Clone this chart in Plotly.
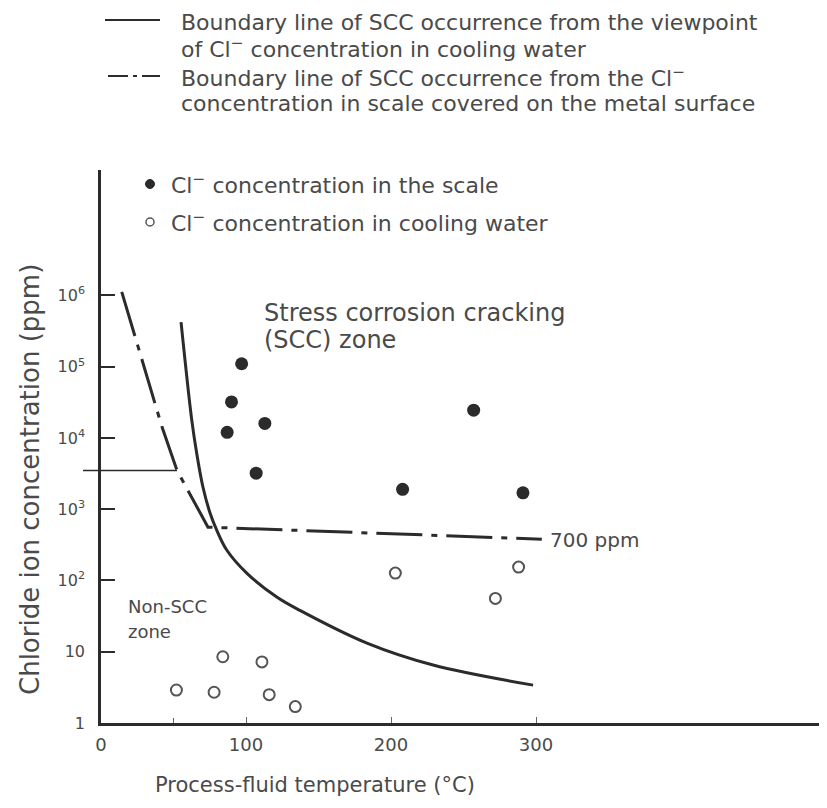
import plotly.graph_objects as go

# Cl- concentration in the scale (filled dots)
scale_temp = [97, 90, 87, 113, 107, 208, 257, 291]
scale_cl = [110000, 32000, 12000, 16000, 3200, 1900, 24500, 1700]

# Cl- concentration in cooling water (open dots)
water_temp = [52, 78, 84, 111, 116, 134, 203, 272, 288]
water_cl = [2.9, 2.7, 8.5, 7.2, 2.5, 1.7, 127, 56, 154]

# boundary line from the viewpoint of cooling water (solid)
water_line_temp = [55.2, 62.6, 66, 70.3, 75.2, 79.8, 86.7, 100.5, 121.2, 137.2, 183.4, 229, 298]
water_line_cl = [423000, 17800, 6100, 2050, 885, 510, 268, 127, 58.6, 38, 13.2, 6.5, 3.4]

# boundary line from Cl- in the scale on the metal surface (dash-dot)
scale_line_temp = [14.3, 42.1, 52.4, 73.8, 304]
scale_line_cl = [1120000, 14200, 3500, 560, 380]

ref_cl = 3500  # thin reference line at left

x_ticks = [0, 100, 200, 300]
y_ticks = [1, 10, 100, 1000, 10000, 100000, 1000000]
y_ticktext = ["1", "10", "10<sup>2</sup>", "10<sup>3</sup>", "10<sup>4</sup>", "10<sup>5</sup>", "10<sup>6</sup>"]

INK = "#2b2b2b"
TXT = "#4a4a4a"
FONT = "DejaVu Sans"

# page has an 8px body margin, so the figure is drawn 8px smaller and
# the plot area still lands at x 101..826, y 170..723 of the window
OFF = 8
W, H = 827 - OFF, 808 - OFF
L, R, T, B = 101, 826, 170, 723
def px(x):
    return (x - L) / (R - L)
def py(y):
    return (B - y) / (B - T)

fig = go.Figure()

fig.add_trace(go.Scatter(x=water_line_temp, y=water_line_cl, mode="lines",
                         line=dict(color=INK, width=3, shape="spline", smoothing=1.0)))
fig.add_trace(go.Scatter(x=scale_line_temp, y=scale_line_cl, mode="lines",
                         line=dict(color=INK, width=3, dash="46px,9px,6px,9px")))
fig.add_trace(go.Scatter(x=scale_temp, y=scale_cl, mode="markers",
                         marker=dict(color=INK, size=13, symbol="circle")))
fig.add_trace(go.Scatter(x=water_temp, y=water_cl, mode="markers",
                         marker=dict(color="white", size=11, symbol="circle",
                                     line=dict(color="#555", width=2))))

# thin reference line crossing the y axis
fig.add_shape(type="line", xref="paper", yref="y", x0=px(83), x1=px(177),
              y0=ref_cl, y1=ref_cl, line=dict(color=INK, width=1.5))

# legend block drawn by hand
fig.add_shape(type="line", xref="paper", yref="paper", x0=px(105), x1=px(160),
              y0=py(20), y1=py(20), line=dict(color=INK, width=2))
fig.add_shape(type="line", xref="paper", yref="paper", x0=px(108), x1=px(160),
              y0=py(76), y1=py(76), line=dict(color=INK, width=2, dash="20px,5px,4px,5px"))
fig.add_shape(type="circle", xref="paper", yref="paper", xsizemode="pixel", ysizemode="pixel",
              xanchor=px(150), yanchor=py(184), x0=-4.5, x1=4.5, y0=-4.5, y1=4.5,
              fillcolor=INK, line=dict(color=INK, width=1))
fig.add_shape(type="circle", xref="paper", yref="paper", xsizemode="pixel", ysizemode="pixel",
              xanchor=px(150), yanchor=py(222), x0=-4, x1=4, y0=-4, y1=4,
              fillcolor="white", line=dict(color="#555", width=1.5))

legend_lines = [
    (180, 22, "Boundary line of SCC occurrence from the viewpoint"),
    (180, 48, "of Cl<sup>−</sup> concentration in cooling water"),
    (180, 77, "Boundary line of SCC occurrence from the Cl<sup>−</sup>"),
    (180, 104, "concentration in scale covered on the metal surface"),
    (170, 184, "Cl<sup>−</sup> concentration in the scale"),
    (170, 222, "Cl<sup>−</sup> concentration in cooling water"),
]
for lx, ly, t in legend_lines:
    fig.add_annotation(x=px(lx), y=py(ly), xref="paper", yref="paper", text=t,
                       showarrow=False, xanchor="left", yanchor="middle", borderpad=0,
                       font=dict(family=FONT, size=22, color=TXT))

# zone labels (log axis -> annotation y in log10 units)
zone_labels = [
    (111, 5.75, "Stress corrosion cracking", 24),
    (111, 5.37, "(SCC) zone", 24),
    (17, 1.63, "Non-SCC", 18),
    (17, 1.28, "zone", 18),
    (308, 2.57, "700 ppm", 20),
]
for zx, zy, t, fs in zone_labels:
    fig.add_annotation(x=zx, y=zy, xref="x", yref="y", text=t, showarrow=False,
                       xanchor="left", yanchor="middle",
                       font=dict(family=FONT, size=fs, color=TXT))

# axis titles
fig.add_annotation(x=px(315), y=py(785), xref="paper", yref="paper",
                   text="Process-fluid temperature (°C)", showarrow=False,
                   xanchor="center", yanchor="middle",
                   font=dict(family=FONT, size=21, color=TXT))
fig.add_annotation(x=px(30), y=py(480), xref="paper", yref="paper",
                   text="Chloride ion concentration (ppm)", showarrow=False, textangle=-90,
                   xanchor="center", yanchor="middle",
                   font=dict(family=FONT, size=26, color=TXT))

fig.update_layout(
    width=W, height=H, template="none",
    margin=dict(l=L - OFF, r=W - (R - OFF), t=T - OFF, b=H - (B - OFF), autoexpand=False),
    paper_bgcolor="white", plot_bgcolor="white", showlegend=False,
    font=dict(family=FONT, color=TXT),
)
fig.update_xaxes(range=[0, 500], showline=True, linecolor=INK, linewidth=2.5,
                 showgrid=False, zeroline=False, automargin=False,
                 tickvals=x_ticks, ticks="inside", ticklen=6, tickwidth=1, tickcolor="#666",
                 tickfont=dict(family=FONT, size=18, color=TXT), ticklabelstandoff=4,
                 minor=dict(tickvals=[50], ticks="inside", ticklen=5, tickcolor="#666"))
fig.update_yaxes(type="log", range=[0, 7.76], showline=True, linecolor=INK, linewidth=2.5,
                 showgrid=False, zeroline=False, automargin=False,
                 tickvals=y_ticks, ticktext=y_ticktext, ticks="inside", ticklen=14,
                 tickwidth=2, tickcolor=INK,
                 tickfont=dict(family=FONT, size=16, color=TXT), ticklabelstandoff=10)

fig.write_html("out.html")
